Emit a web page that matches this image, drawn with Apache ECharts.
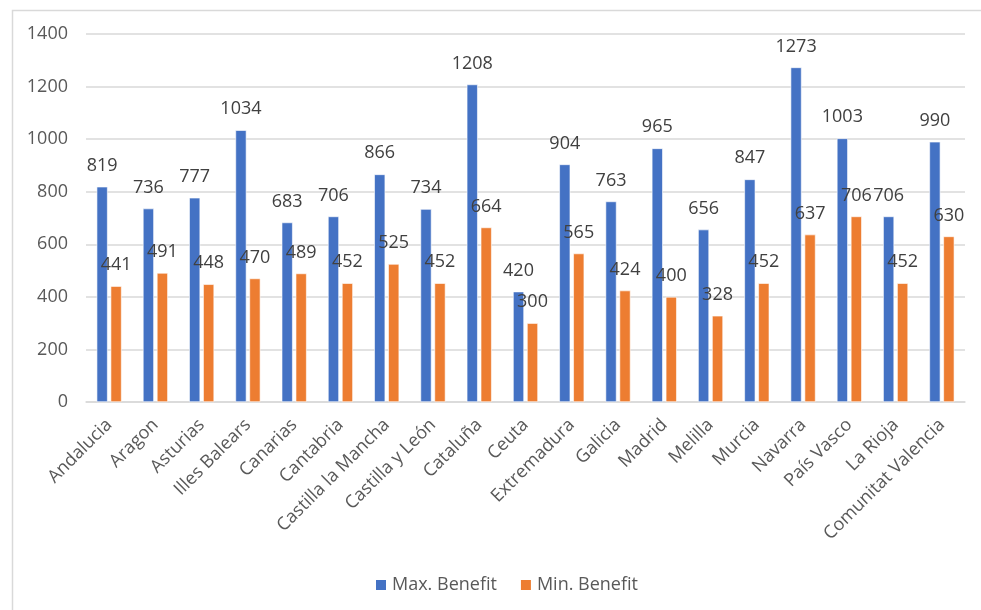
<!DOCTYPE html>
<html>
<head>
<meta charset="utf-8">
<script src="https://cdn.jsdelivr.net/npm/echarts@6/dist/echarts.min.js"></script>
<style>
  html, body { margin: 0; padding: 0; background: #fff; }
  #chart { width: 981px; height: 610px; }
</style>
</head>
<body>
<div id="chart"></div>
<script>
const regions = ['Andalucia', 'Aragon', 'Asturias', 'Illes Balears', 'Canarias', 'Cantabria',
  'Castilla la Mancha', 'Castilla y León', 'Cataluña', 'Ceuta', 'Extremadura', 'Galicia',
  'Madrid', 'Melilla', 'Murcia', 'Navarra', 'País Vasco', 'La Rioja', 'Comunitat Valencia'];
const maxBenefit = [819, 736, 777, 1034, 683, 706, 866, 734, 1208, 420, 904, 763, 965, 656, 847, 1273, 1003, 706, 990];
const minBenefit = [441, 491, 448, 470, 489, 452, 525, 452, 664, 300, 565, 424, 400, 328, 452, 637, 706, 452, 630];
const yTicks = { min: 0, max: 1400, interval: 200 };

const FONT = '"Open Sans", "Liberation Sans", sans-serif';
const TEXT = '#595959';

const labelStyle = {
  show: true,
  position: 'top',
  distance: 12,
  color: '#404040',
  fontFamily: FONT,
  fontSize: 18
};

const chart = echarts.init(document.getElementById('chart'), null, { renderer: 'canvas' });
chart.setOption({
  animation: false,
  backgroundColor: '#fff',
  textStyle: { fontFamily: FONT },
  graphic: [{
    type: 'rect',
    left: 10, top: 8,
    shape: { x: 0, y: 0, width: 1000, height: 700 },
    style: { fill: 'none', stroke: '#d9d9d9', lineWidth: 1.5 },
    silent: true
  }],
  grid: { left: 86, right: 16, top: 34, bottom: 208, containLabel: false },
  legend: {
    top: 571,
    left: 369,
    itemWidth: 12,
    itemHeight: 12,
    itemGap: 22,
    icon: 'rect',
    textStyle: { color: TEXT, fontFamily: FONT, fontSize: 18 },
    data: ['Max. Benefit', 'Min. Benefit']
  },
  xAxis: {
    type: 'category',
    data: regions,
    axisLine: { lineStyle: { color: '#d9d9d9', width: 1.5 } },
    axisTick: { show: false },
    axisLabel: {
      rotate: 45,
      interval: 0,
      margin: 20,
      color: TEXT,
      fontFamily: FONT,
      fontSize: 18
    }
  },
  yAxis: {
    type: 'value',
    min: yTicks.min,
    max: yTicks.max,
    interval: yTicks.interval,
    axisLine: { show: false },
    axisTick: { show: false },
    splitLine: { lineStyle: { color: '#d9d9d9', width: 1.5 } },
    axisLabel: {
      color: TEXT, fontFamily: FONT, fontSize: 18, margin: 18,
      formatter: v => String(v)
    }
  },
  series: [
    {
      name: 'Max. Benefit',
      type: 'bar',
      data: maxBenefit,
      barWidth: 11,
      barGap: '27%',
      itemStyle: { color: '#4472C4', borderColor: '#ffffff', borderWidth: 0.6 },
      label: labelStyle
    },
    {
      name: 'Min. Benefit',
      type: 'bar',
      data: minBenefit,
      barWidth: 11,
      barGap: '27%',
      itemStyle: { color: '#ED7D31', borderColor: '#ffffff', borderWidth: 0.6 },
      label: labelStyle
    }
  ]
});
</script>
</body>
</html>
